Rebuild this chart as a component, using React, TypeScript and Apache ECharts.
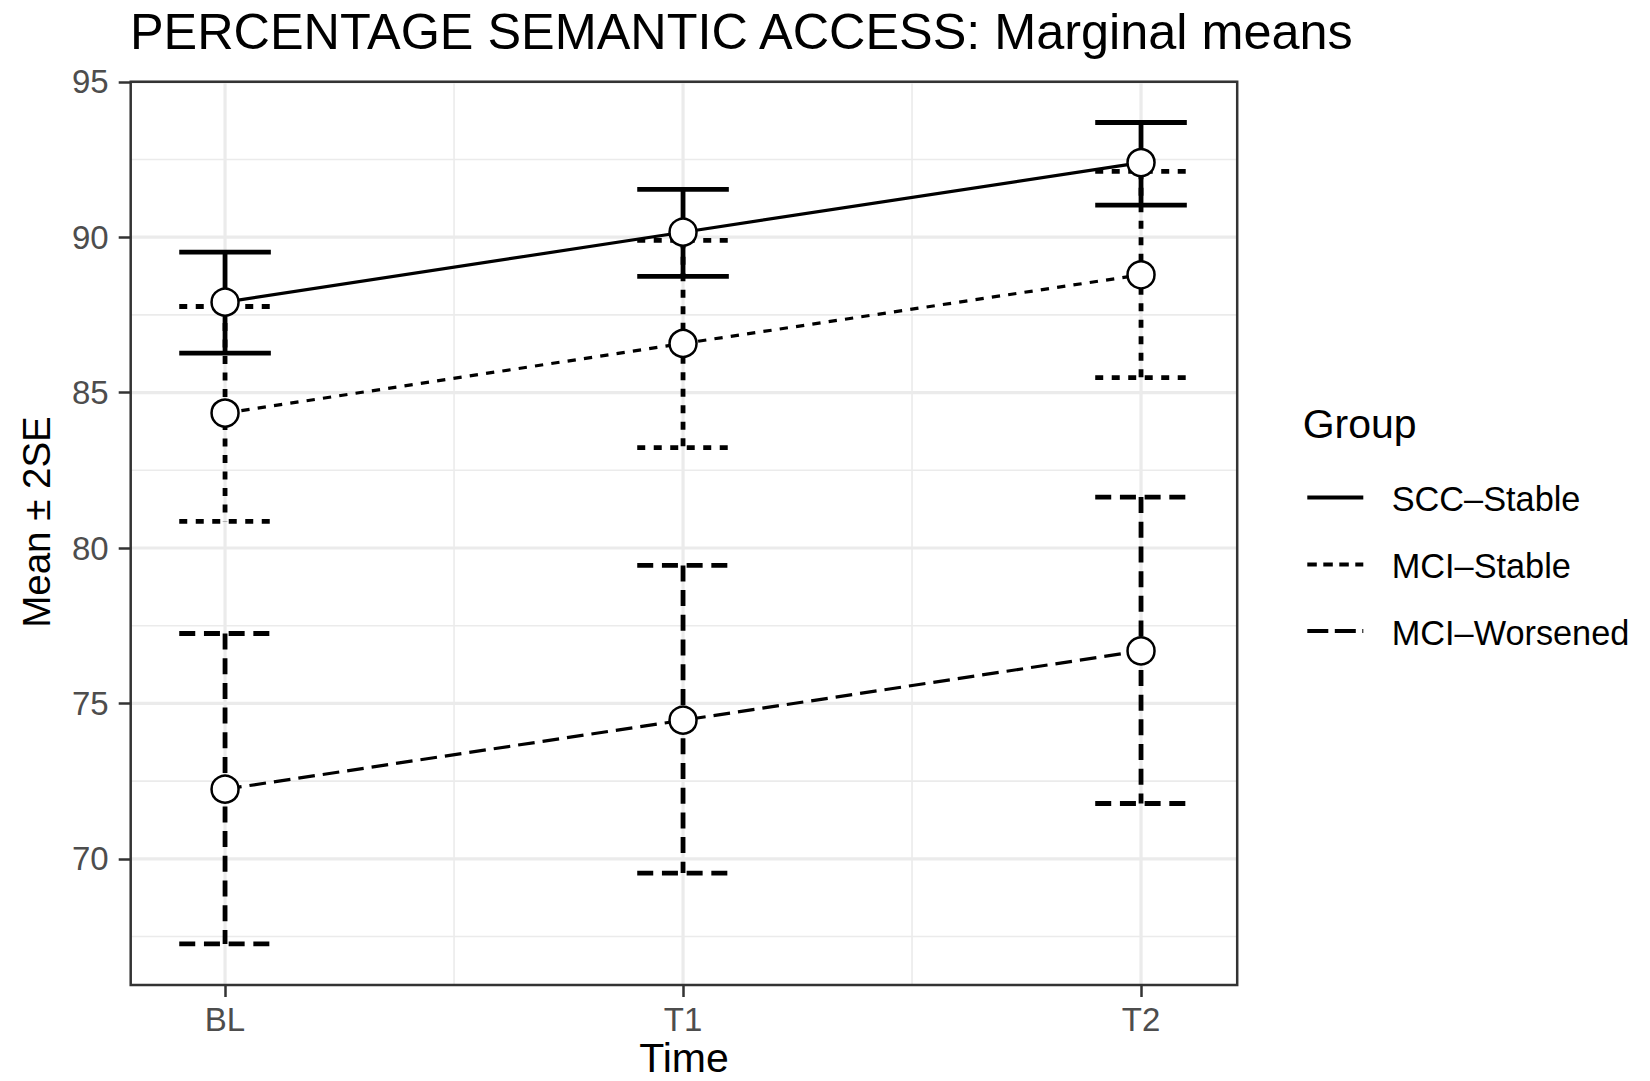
import React, { useEffect, useRef } from "react";
import * as echarts from "echarts";

const times = ["BL", "T1", "T2"];
const timePos = [1, 2, 3];

const groups = ["SCC–Stable", "MCI–Stable", "MCI–Worsened"];

const sccMean = [87.91, 90.16, 92.4];
const sccLower = [86.27, 88.74, 91.03];
const sccUpper = [89.52, 91.54, 93.69];

const mciStableMean = [84.34, 86.58, 88.79];
const mciStableLower = [80.86, 83.23, 85.48];
const mciStableUpper = [87.77, 89.9, 92.12];

const mciWorseMean = [72.24, 74.46, 76.69];
const mciWorseLower = [67.26, 69.54, 71.78];
const mciWorseUpper = [77.25, 79.44, 81.64];

const yMajorTicks = [70, 75, 80, 85, 90, 95];
const yMinorTicks = [67.5, 72.5, 77.5, 82.5, 87.5, 92.5];
const xMajorTicks = [1, 2, 3];
const xMinorTicks = [1.5, 2.5];

const FONT = "'Liberation Sans', Arial, Helvetica, sans-serif";

const lineDashes: any[] = ["solid", [8.3, 8.2], [16.7, 8]];
const barDashes: any[] = [null, [8, 8.5], [16, 8.7]];
const keyDashes: any[] = [null, [9.5, 6.5], [21, 6.5]];

const means = [sccMean, mciStableMean, mciWorseMean];
const lowers = [sccLower, mciStableLower, mciWorseLower];
const uppers = [sccUpper, mciStableUpper, mciWorseUpper];

export default function App() {
  const ref = useRef<HTMLDivElement>(null);
  useEffect(() => {
    if (!ref.current) return;
    const chart = echarts.init(ref.current, null, { renderer: "svg" });

    const gridSeries: any[] = [
      {
        type: "custom",
        silent: true,
        z: 0,
        data: [
          ...yMinorTicks.map((v) => [1, v, 0]),
          ...yMajorTicks.map((v) => [1, v, 1]),
        ],
        encode: { x: 0, y: 1 },
        renderItem: (params: any, api: any) => {
          const cs = params.coordSys;
          const y = api.coord([1, api.value(1)])[1];
          const major = api.value(2) === 1;
          return {
            type: "line",
            shape: { x1: cs.x, y1: y, x2: cs.x + cs.width, y2: y },
            style: { stroke: "#EBEBEB", lineWidth: major ? 3.2 : 1.6 },
          };
        },
      },
      {
        type: "custom",
        silent: true,
        z: 0,
        data: [
          ...xMinorTicks.map((v) => [v, 80, 0]),
          ...xMajorTicks.map((v) => [v, 80, 1]),
        ],
        encode: { x: 0, y: 1 },
        renderItem: (params: any, api: any) => {
          const cs = params.coordSys;
          const x = api.coord([api.value(0), 80])[0];
          const major = api.value(2) === 1;
          return {
            type: "line",
            shape: { x1: x, y1: cs.y, x2: x, y2: cs.y + cs.height },
            style: { stroke: "#EBEBEB", lineWidth: major ? 3.2 : 1.6 },
          };
        },
      },
    ];

    const errSeries = groups.map((g, gi) => ({
      type: "custom",
      name: g + " SE",
      silent: true,
      z: 2,
      data: timePos.map((x, i) => [x, lowers[gi][i], uppers[gi][i]]),
      encode: { x: 0, y: [1, 2] },
      renderItem: (params: any, api: any) => {
        const x = api.value(0);
        const lo = api.value(1);
        const hi = api.value(2);
        const tl = api.coord([x - 0.1, hi]);
        const tr = api.coord([x + 0.1, hi]);
        const tm = api.coord([x, hi]);
        const bm = api.coord([x, lo]);
        const bl = api.coord([x - 0.1, lo]);
        const br = api.coord([x + 0.1, lo]);
        const style: any = { stroke: "#000", lineWidth: 4.8, fill: null };
        if (barDashes[gi]) style.lineDash = barDashes[gi];
        return {
          type: "group",
          children: [
            { type: "line", shape: { x1: tl[0], y1: tl[1], x2: tr[0], y2: tr[1] }, style },
            { type: "line", shape: { x1: tm[0], y1: tm[1], x2: bm[0], y2: bm[1] }, style },
            { type: "line", shape: { x1: bl[0], y1: bl[1], x2: br[0], y2: br[1] }, style },
          ],
        };
      },
    }));

    const lineSeries = groups.map((g, gi) => ({
      type: "line",
      name: g,
      z: 3,
      silent: true,
      data: timePos.map((x, i) => [x, means[gi][i]]),
      showSymbol: true,
      symbol: "circle",
      symbolSize: 27,
      itemStyle: { color: "#fff", borderColor: "#000", borderWidth: 2.5 },
      lineStyle: { color: "#000", width: 3.2, type: lineDashes[gi] },
    }));

    const legendChildren: any[] = [];
    const keyY = [497.5, 564.5, 631];
    groups.forEach((g, gi) => {
      const style: any = { stroke: "#000", lineWidth: 4.2 };
      if (keyDashes[gi]) style.lineDash = keyDashes[gi];
      legendChildren.push({
        type: "line",
        shape: { x1: 1307.3, y1: keyY[gi], x2: 1363.3, y2: keyY[gi] },
        style,
      });
      legendChildren.push({
        type: "text",
        x: 1391.7,
        y: keyY[gi] + 1.5,
        style: {
          text: g,
          fontSize: 34.3,
          fontFamily: FONT,
          fill: "#000",
          verticalAlign: "middle",
          align: "left",
        },
      });
    });

    chart.setOption({
      animation: false,
      backgroundColor: "#fff",
      grid: {
        left: 130.7,
        top: 81.8,
        width: 1106.5,
        height: 903.2,
        show: true,
        borderColor: "#333333",
        borderWidth: 2.5,
        backgroundColor: "transparent",
        z: 5,
      },
      xAxis: {
        type: "value",
        min: 0.794,
        max: 3.21,
        axisLine: { show: false },
        splitLine: { show: false },
        axisTick: {
          show: true,
          customValues: timePos,
          length: 12,
          lineStyle: { color: "#333333", width: 2.5 },
        },
        axisLabel: {
          customValues: timePos,
          formatter: (v: number) => times[Math.round(v) - 1] ?? "",
          fontSize: 33,
          fontFamily: FONT,
          color: "#4D4D4D",
          margin: 18,
        },
      },
      yAxis: {
        type: "value",
        min: 65.94,
        max: 95.0,
        axisLine: { show: false },
        splitLine: { show: false },
        axisTick: {
          show: true,
          customValues: yMajorTicks,
          length: 12,
          lineStyle: { color: "#333333", width: 2.5 },
        },
        axisLabel: {
          customValues: yMajorTicks,
          fontSize: 33,
          fontFamily: FONT,
          color: "#4D4D4D",
          margin: 22,
        },
      },
      graphic: [
        {
          type: "text",
          x: 130,
          y: 31.3,
          style: {
            text: "PERCENTAGE SEMANTIC ACCESS: Marginal means",
            fontSize: 50.4,
            fontFamily: FONT,
            fill: "#000",
            verticalAlign: "middle",
            align: "left",
          },
        },
        {
          type: "text",
          x: 684,
          y: 1058,
          style: {
            text: "Time",
            fontSize: 41,
            fontFamily: FONT,
            fill: "#000",
            verticalAlign: "middle",
            align: "center",
          },
        },
        {
          type: "text",
          x: 36,
          y: 522,
          rotation: Math.PI / 2,
          style: {
            text: "Mean ± 2SE",
            fontSize: 38.5,
            fontFamily: FONT,
            fill: "#000",
            verticalAlign: "middle",
            align: "center",
          },
        },
        {
          type: "text",
          x: 1302.7,
          y: 424,
          style: {
            text: "Group",
            fontSize: 41,
            fontFamily: FONT,
            fill: "#000",
            verticalAlign: "middle",
            align: "left",
          },
        },
        ...legendChildren,
      ],
      series: [...gridSeries, ...errSeries, ...lineSeries],
    });

    return () => {
      chart.dispose();
    };
  }, []);

  return (
    <div
      ref={ref}
      style={{
        position: "absolute",
        left: 0,
        top: 0,
        width: 1650,
        height: 1081,
        overflow: "hidden",
      }}
    />
  );
}
